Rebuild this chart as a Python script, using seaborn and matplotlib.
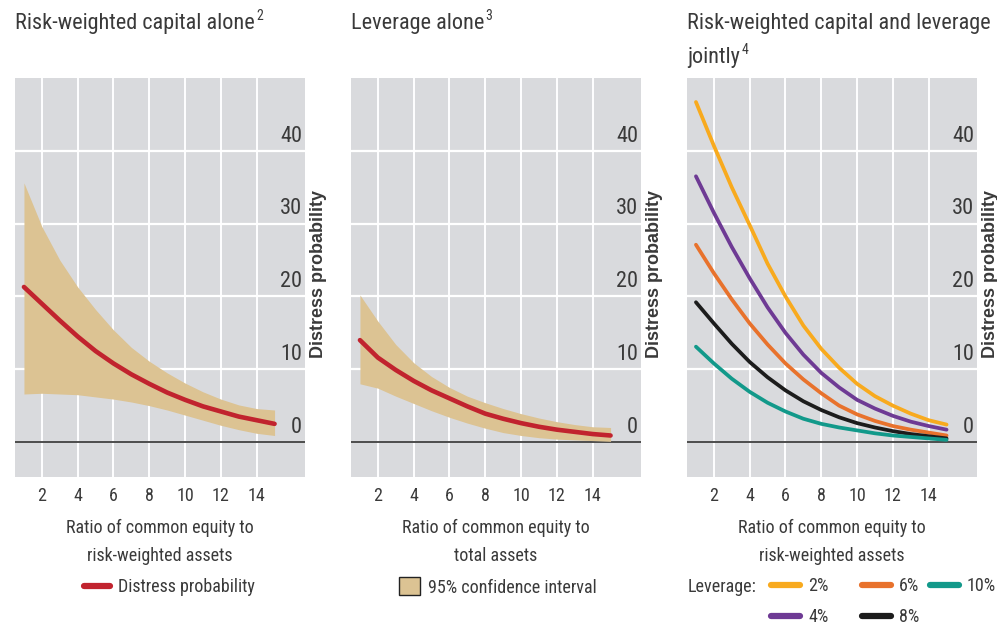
import matplotlib
matplotlib.use("Agg")
import matplotlib.pyplot as plt
from matplotlib.lines import Line2D
from matplotlib.patches import Patch
import seaborn as sns
import pandas as pd

# ---- data -------------------------------------------------------------
ratio = [1, 2, 3, 4, 5, 6, 7, 8, 9, 10, 11, 12, 13, 14, 15]

# Risk-weighted capital alone
rw_prob = [21.3, 19.0, 16.7, 14.5, 12.5, 10.8, 9.3, 8.0, 6.8, 5.8, 4.9, 4.2, 3.5, 3.0, 2.5]
rw_upper = [35.6, 29.6, 25.0, 21.3, 18.2, 15.4, 13.0, 11.1, 9.5, 8.1, 6.9, 5.9, 5.1, 4.6, 4.4]
rw_lower = [6.6, 6.7, 6.6, 6.5, 6.2, 5.9, 5.5, 5.0, 4.4, 3.7, 3.0, 2.3, 1.7, 1.2, 0.9]

# Leverage alone
lev_prob = [14.0, 11.6, 9.9, 8.4, 7.1, 6.0, 4.9, 3.9, 3.2, 2.6, 2.1, 1.7, 1.4, 1.1, 0.9]
lev_upper = [20.2, 16.6, 13.4, 10.9, 9.0, 7.5, 6.3, 5.4, 4.6, 3.9, 3.3, 2.8, 2.4, 2.1, 2.0]
lev_lower = [8.0, 7.4, 6.3, 5.3, 4.3, 3.4, 2.6, 1.9, 1.3, 0.9, 0.6, 0.4, 0.3, 0.2, 0.1]

# Joint model, one curve per leverage ratio
leverage_levels = ["2%", "4%", "6%", "8%", "10%"]
joint_2 = [46.7, 40.7, 35.0, 29.8, 24.5, 20.0, 16.0, 12.8, 10.2, 8.0, 6.3, 5.0, 3.9, 3.0, 2.4]
joint_4 = [36.5, 31.5, 26.8, 22.5, 18.5, 15.0, 12.0, 9.5, 7.5, 5.8, 4.6, 3.6, 2.8, 2.2, 1.7]
joint_6 = [27.1, 23.2, 19.6, 16.3, 13.4, 10.8, 8.6, 6.7, 5.0, 3.8, 2.9, 2.2, 1.7, 1.3, 0.9]
joint_8 = [19.2, 16.3, 13.5, 11.0, 8.9, 7.1, 5.6, 4.4, 3.4, 2.6, 2.0, 1.5, 1.1, 0.8, 0.5]
joint_10 = [13.1, 10.8, 8.7, 6.9, 5.4, 4.2, 3.2, 2.5, 2.0, 1.6, 1.2, 0.9, 0.7, 0.5, 0.3]

x_ticks = [2, 4, 6, 8, 10, 12, 14]
y_ticks = [0, 10, 20, 30, 40]

title_lines = [["Risk-weighted capital alone"], ["Leverage alone"],
               ["Risk-weighted capital and leverage", "jointly"]]
title_notes = ["2", "3", "4"]
x_labels = ["Ratio of common equity to\nrisk-weighted assets",
            "Ratio of common equity to\ntotal assets",
            "Ratio of common equity to\nrisk-weighted assets"]
y_label = "Distress probability"

# ---- style ------------------------------------------------------------
sns.set_theme(style="white")
plt.rcParams["font.family"] = ["Roboto Condensed", "Archivo Narrow", "DejaVu Sans"]
plt.rcParams["font.stretch"] = "condensed"
TEXT = "#3a3a3a"
PANEL = "#d9dadd"
TAN = "#dcc393"
RED = "#c1232e"
palette = {"2%": "#f8aa1e", "4%": "#6e3a94", "6%": "#e8722c",
           "8%": "#1c1c1c", "10%": "#12998a"}

fig = plt.figure(figsize=(9.97, 6.28), dpi=100)
W, H = 997, 628
lefts = [15, 351, 687]
axes = [fig.add_axes([l / W, 1 - 477 / H, 290 / W, 399 / H]) for l in lefts]


def style_panel(ax, xlabel):
    ax.set_facecolor(PANEL)
    for s in ax.spines.values():
        s.set_visible(False)
    ax.set_xlim(0.5, 16.7)
    ax.set_ylim(-4.8, 50)
    ax.set_xticks(x_ticks)
    ax.set_yticks([])
    ax.tick_params(axis="x", direction="in", length=11, width=1.3,
                   color="#4a4a4a", pad=7, labelsize=13, labelcolor=TEXT)
    for xv in x_ticks:
        ax.axvline(xv, color="white", lw=1.4, zorder=0.5)
    for yv in y_ticks[1:]:
        ax.axhline(yv, color="white", lw=1.6, zorder=0.5)
    ax.axhline(0, color="#4d4d4d", lw=1.4, zorder=1)
    for yv in y_ticks:
        ax.annotate(str(yv), xy=(0.99, yv), xycoords=("axes fraction", "data"),
                    xytext=(0, 3), textcoords="offset points",
                    ha="right", va="bottom", fontsize=16, color=TEXT)
    ax.text(1.045, 0.51, y_label, transform=ax.transAxes, rotation=90,
            ha="center", va="center", fontsize=13, fontweight="bold",
            color=TEXT, family=["Liberation Sans", "DejaVu Sans"],
            fontstretch="normal")
    ax.set_xlabel(xlabel, fontsize=13, color=TEXT, labelpad=10, linespacing=1.7)


for ax, xl in zip(axes, x_labels):
    style_panel(ax, xl)

# Panel 1: risk-weighted capital alone
ax = axes[0]
ax.fill_between(ratio, rw_lower, rw_upper, color=TAN, lw=0, zorder=2)
sns.lineplot(x=ratio, y=rw_prob, ax=ax, color=RED, lw=3.3, zorder=3)

# Panel 2: leverage alone
ax = axes[1]
ax.fill_between(ratio, lev_lower, lev_upper, color=TAN, lw=0, zorder=2)
sns.lineplot(x=ratio, y=lev_prob, ax=ax, color=RED, lw=3.3, zorder=3)

# Panel 3: joint model
joint = pd.DataFrame({
    "ratio": ratio * 5,
    "prob": joint_2 + joint_4 + joint_6 + joint_8 + joint_10,
    "leverage": [lvl for lvl in leverage_levels for _ in ratio],
})
sns.lineplot(data=joint, x="ratio", y="prob", hue="leverage",
             hue_order=leverage_levels, palette=palette, lw=2.7,
             ax=axes[2], legend=False, zorder=3)

for ax in axes:
    ax.set_ylabel("")

# Titles, footnote marker after the last line
for x0, lines, note in zip(lefts, title_lines, title_notes):
    t = None
    for i, line in enumerate(lines):
        t = fig.text(x0 / W, 1 - (13 + 34 * i) / H, line, ha="left", va="top",
                     fontsize=16, color=TEXT)
    plt.annotate(note, xy=(1, 1), xycoords=t, xytext=(1, 3),
                 textcoords="offset points", ha="left", va="top",
                 fontsize=10, color=TEXT, annotation_clip=False)

# Legends
leg_kw = dict(frameon=False, fontsize=13, labelcolor=TEXT, handletextpad=0.45,
              borderaxespad=0, borderpad=0, loc="center left")
fig.legend(handles=[Line2D([], [], color=RED, lw=4.5)],
           labels=["Distress probability"],
           bbox_to_anchor=(84 / W, 1 - 587 / H), handlelength=1.45, **leg_kw)
fig.legend(handles=[Patch(facecolor=TAN, edgecolor="#222222", lw=1.0)],
           labels=["95% confidence interval"],
           bbox_to_anchor=(399 / W, 1 - 587 / H), handlelength=1.15,
           handleheight=1.15, **leg_kw)
fig.text(688 / W, 1 - 587 / H, "Leverage:", ha="left", va="center",
         fontsize=13, color=TEXT)
entry_pos = {"2%": (771, 586), "4%": (771, 617), "6%": (862, 586),
             "8%": (862, 617), "10%": (930, 586)}
for lvl in leverage_levels:
    ex, ey = entry_pos[lvl]
    fig.legend(handles=[Line2D([], [], color=palette[lvl], lw=4.5)],
               labels=[lvl], bbox_to_anchor=(ex / W, 1 - ey / H),
               handlelength=1.6, **leg_kw)

fig.savefig("out.png", dpi=100)
